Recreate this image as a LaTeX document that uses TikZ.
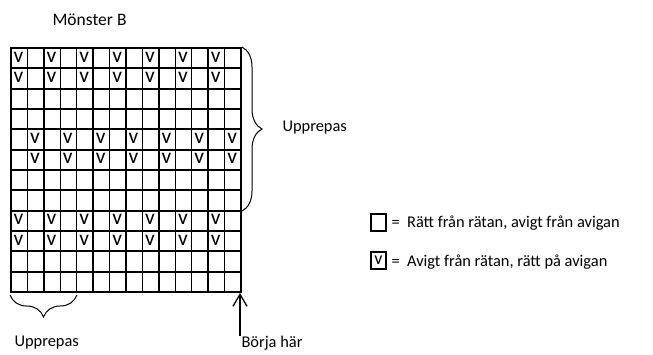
\documentclass[tikz,border=0pt]{standalone}
\usepackage{fontspec}
\setmainfont{Carlito}
\usetikzlibrary{arrows.meta}
\usetikzlibrary{decorations.pathreplacing}

\begin{document}
\begin{tikzpicture}[x=1pt, y=-1pt, font=\fontsize{16.4}{19}\selectfont,
    stitch/.style={anchor=west, inner sep=0pt, font=\fontsize{21.5}{21}\selectfont},
    keybox/.style={draw, line width=2pt, minimum width=15pt, minimum height=17pt, inner sep=0pt}]
    \useasboundingbox (0,0) rectangle (653,354);

    \node[anchor=west, font=\fontsize{17.5}{20}\selectfont] (title) at (49,20) {Mönster B};

    % Grid (14 columns, 12 rows)
    \foreach \i in {0,...,14}
        \draw[line width=1.5pt] (11+16.43*\i,48) -- (11+16.43*\i,292);
    \foreach \j in {0,...,12}
        \draw[line width=2.2pt] (10,48+20.33*\j) -- (242,48+20.33*\j);
    \draw[line width=2.2pt] (11,47) -- (11,293);
    \coordinate (corner) at (241,293);

    % v stitches
    \foreach \r in {0,1,8,9}
        \foreach \c in {0,2,...,12}
            \node[stitch] (v-\r-\c) at (13.5+16.43*\c,57+20.33*\r) {v};
    \foreach \r in {4,5}
        \foreach \c in {1,3,...,13}
            \node[stitch] (v-\r-\c) at (13.5+16.43*\c,57+20.33*\r) {v};

    % Repeat braces
    \coordinate (rtop) at (242,47);
    \coordinate (rbot) at (242,211);
    \draw[line width=1pt, decorate, decoration={brace, amplitude=20pt}] (rtop) -- (rbot);
    \node[anchor=west] (rep1) at (279,128) {Upprepas};
    \coordinate (bright) at (77,295);
    \coordinate (bleft) at (10,295);
    \draw[line width=1pt, decorate, decoration={brace, amplitude=22pt}] (bright) -- (bleft);
    \node[anchor=west] (rep2) at (11,343) {Upprepas};

    % Start arrow
    \node[anchor=west] (start) at (238,343) {Börja här};
    \coordinate (tail) at (240,336);
    \draw[line width=1.3pt, -{Straight Barb[length=12pt, width=14pt]}] (tail) -- (corner -| tail);

    % Key
    \node[keybox] (key1) at (378.5,222.5) {};
    \node[anchor=west] (txt1) at (388,223) {= \ Rätt från rätan, avigt från avigan};
    \node[keybox, font=\fontsize{18}{18}\selectfont] (key2) at (378.5,260) {v};
    \node[anchor=west] (txt2) at (388,262) {= \ Avigt från rätan, rätt på avigan};
\end{tikzpicture}
\end{document}
